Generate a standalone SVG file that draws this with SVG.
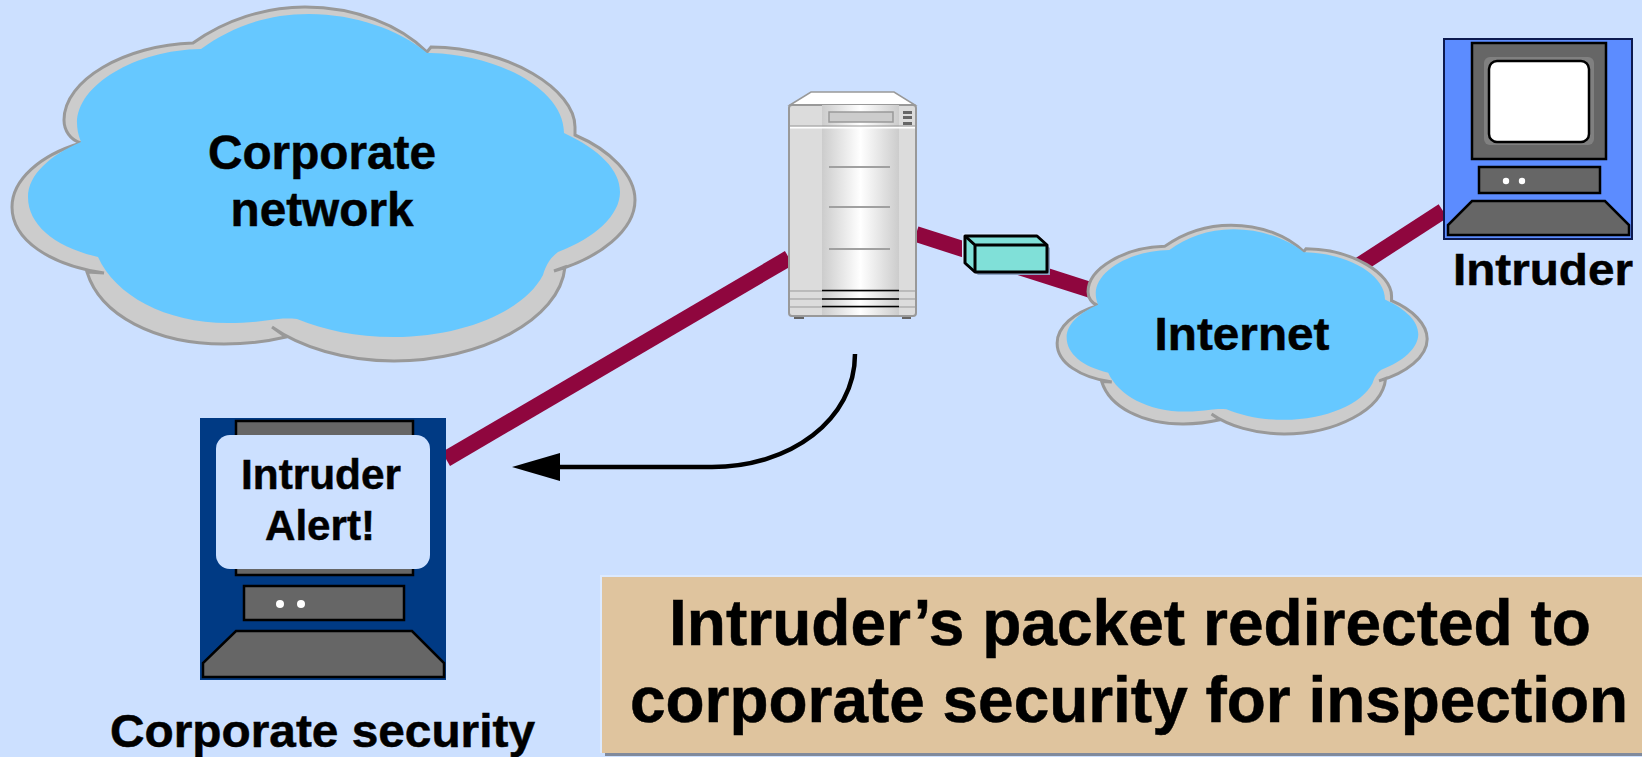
<svg xmlns="http://www.w3.org/2000/svg" width="1642" height="757" viewBox="0 0 1642 757">
<style>
text{font-family:"Liberation Sans",Arial,sans-serif;font-weight:700;fill:#000;stroke:#000;stroke-width:.5}
.back{fill:#ccc;stroke:#999;stroke-width:3;vector-effect:non-scaling-stroke}
.front{fill:#66c8ff}
.wire{fill:none;stroke:#8f063e;stroke-width:16}
.hw{fill:#666;stroke:#000;stroke-width:2.5}
.led{fill:#fff}
.slot{stroke:#a0a0a0;stroke-width:2;fill:none}
.band{stroke:#000;stroke-width:1.5}
.vent{fill:#666}
</style>
<defs>
<linearGradient id="metal" x1="0" x2="1" y1="0" y2="0"><stop offset="0" stop-color="#ccc"/><stop offset=".5" stop-color="#fff"/><stop offset="1" stop-color="#ccc"/></linearGradient>
<marker id="head" markerUnits="userSpaceOnUse" markerWidth="50" markerHeight="30" viewBox="0 0 50 30" refX="2" refY="15" orient="auto"><polygon points="0,1 48,15 0,29" fill="#000"/></marker>
<g id="cloud">
<path class="back" d="M193,43C225,20 265,7 305,7C355,7 400,25 427,52L431,47C510,48 575,90 575,127V135C610,150 635,175 635,200C635,230 600,258 554,271L565,267C560,320 480,361 394,361C345,361 300,347 272,327L286,337C265,342 245,344 224,344C155,344 100,315 87,272L104,273C50,265 12,240 12,207C12,180 40,155 81,143C70,140 64,130 64,120C64,80 125,45 193,43Z"/>
<path class="front" d="M201,49C230,28 265,14 309,14C355,14 400,30 427,53L431,53C500,55 564,90 564,133C600,150 620,170 620,192C620,215 595,238 558,252C550,258 546,265 543,275C525,310 465,337 394,337C355,337 325,330 297,319C285,318 278,319 270,320C257,322 243,323 228,323C165,323 115,295 98,257C55,247 28,225 28,197C28,175 50,155 81,142C78,135 77,128 77,123C77,85 135,50 201,49Z"/>
</g>
</defs>
<rect width="1642" height="757" fill="#cce0ff"/>
<g id="connectors">
<path class="wire" d="M789,258L446,459"/>
<path class="wire" d="M916,234L1100,293"/>
<path class="wire" d="M1443,211L1355,268"/>
<path d="M855,354C855,420 790,467 712,467L558,467" fill="none" stroke="#000" stroke-width="4.500" marker-end="url(#head)"/>
</g>
<g id="corporate-network">
<use href="#cloud"/>
<text x="322" y="169" font-size="48" text-anchor="middle" textLength="228" lengthAdjust="spacingAndGlyphs">Corporate</text>
<text x="322" y="226" font-size="48" text-anchor="middle" textLength="183" lengthAdjust="spacingAndGlyphs">network</text>
</g>
<g id="internet">
<use href="#cloud" transform="translate(1050 221) scale(.594 .59)"/>
<text x="1242" y="350" font-size="46" text-anchor="middle" textLength="175" lengthAdjust="spacingAndGlyphs">Internet</text>
</g>
<g id="server">
<rect x="794" y="312" width="10" height="7" fill="#666"/><rect x="902" y="312" width="9" height="7" fill="#666"/>
<polygon points="790,105 811,92 894,92 915,105" fill="#fff" stroke="#999" stroke-width="1.5"/>
<rect x="789" y="105" width="127" height="211" rx="3" fill="#dcdcdc" stroke="#999" stroke-width="2"/>
<rect x="822" y="105" width="77" height="210" fill="url(#metal)"/>
<path d="M790,127.500H915" stroke="#fff" stroke-width="2"/>
<path d="M790,126H915" stroke="#999" stroke-width="1"/>
<rect x="829" y="112" width="64" height="10" fill="#ccc" stroke="#999" stroke-width="1.500"/>
<rect class="vent" x="903" y="111" width="9" height="3"/><rect class="vent" x="903" y="116" width="9" height="3"/><rect class="vent" x="903" y="122" width="9" height="3"/>
<path class="slot" d="M829,167H890M829,207H890M829,249H890"/>
<path d="M790,291H915M790,299H915M790,307H915" stroke="#999" stroke-width="1"/>
<path class="band" d="M822,290.500H899M822,299H899M822,306.500H899"/>
</g>
<g id="packet">
<polygon points="962,233 1037,233 1050,245 1050,275 975,275 962,262" fill="#d6e6ff"/>
<polygon points="965,238 1038,238 1050,248 1050,275 978,275 965,265" fill="#8ba3c4"/>
<polygon points="965,236 1037,236 1047,245 1047,272 975,272 965,263" fill="#80e0d8" stroke="#000" stroke-width="3" stroke-linejoin="round"/>
<path d="M965,236L975,245H1047M975,245V272" fill="none" stroke="#000" stroke-width="3"/>
</g>
<g id="intruder">
<rect x="1444" y="39" width="188" height="200" fill="#5c8cff" stroke="#0c1a50" stroke-width="2"/>
<rect class="hw" x="1472" y="43" width="134" height="116"/>
<rect x="1484" y="57" width="110" height="88" rx="6" fill="#808080"/>
<rect x="1489" y="61" width="100" height="81" rx="8" fill="#fff" stroke="#000" stroke-width="2.500"/>
<rect class="hw" x="1479" y="167" width="121" height="26"/>
<circle class="led" cx="1506" cy="181" r="3.200"/><circle class="led" cx="1522" cy="181" r="3.200"/>
<polygon class="hw" points="1472,201 1605,201 1629,225 1629,235 1448,235 1448,225"/>
<text x="1543" y="285" font-size="45" text-anchor="middle" textLength="180" lengthAdjust="spacingAndGlyphs">Intruder</text>
</g>
<g id="corporate-security">
<rect x="200" y="418" width="246" height="262" fill="#003a84"/>
<rect class="hw" x="236" y="421" width="177" height="154"/>
<rect x="216" y="435" width="214" height="134" rx="14" fill="#cce0ff"/>
<text x="321" y="489" font-size="42" text-anchor="middle" textLength="160" lengthAdjust="spacingAndGlyphs">Intruder</text>
<text x="320" y="540" font-size="42" text-anchor="middle" textLength="110" lengthAdjust="spacingAndGlyphs">Alert!</text>
<rect class="hw" x="244" y="586" width="160" height="34"/>
<circle class="led" cx="280" cy="604" r="4"/><circle class="led" cx="301" cy="604" r="4"/>
<polygon class="hw" points="236,631 412,631 444,663 444,677 203,677 203,663"/>
<text x="322.500" y="747" font-size="46" text-anchor="middle" textLength="425" lengthAdjust="spacingAndGlyphs">Corporate security</text>
</g>
<g id="caption">
<rect x="600" y="575" width="1042" height="4" fill="#dceaff"/><rect x="600" y="575" width="2" height="178" fill="#dceaff"/>
<rect x="605" y="753" width="1037" height="3" fill="#808a9c"/>
<rect x="602" y="577" width="1040" height="176" fill="#dfc49e"/>
<text x="1130" y="645" font-size="64" text-anchor="middle" textLength="922" lengthAdjust="spacingAndGlyphs">Intruder’s packet redirected to</text>
<text x="1129" y="722" font-size="64" text-anchor="middle" textLength="998" lengthAdjust="spacingAndGlyphs">corporate security for inspection</text>
</g>
</svg>
